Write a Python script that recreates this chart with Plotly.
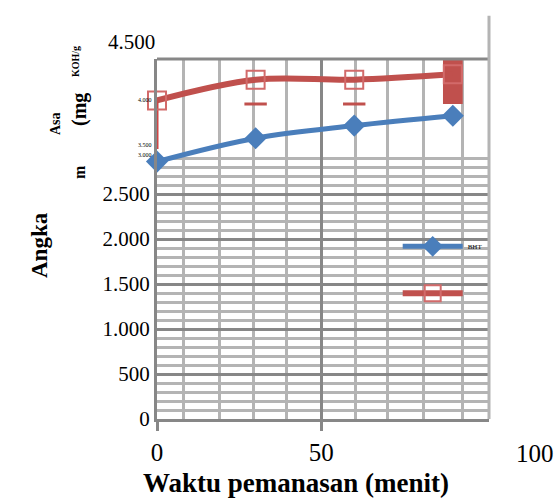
import plotly.graph_objects as go

# ---- data ----
waktu = [0, 30, 60, 90]                 # Waktu pemanasan (menit)
bht = [2860, 3120, 3260, 3370]          # Angka Asam, BHT series
kontrol = [3540, 3770, 3770, 3830]      # Angka Asam, second (red) series
kontrol_err_minus = [540, 0, 0, 0]      # lower error bar of first red point
cap_x = [30, 60]                        # short red caps under red points
cap_y = [3500, 3500]
blok_x = [90]                           # stray solid block at last red point
blok_base = [3500]
blok_h = [500]

x_ticks = [0, 50]
y_ticks = [0, 500, 1000, 1500, 2000, 2500]
x_minor = [8, 19, 29.5, 39.5, 60.5, 70, 81, 93]
y_minor = [v for v in range(100, 3000, 100) if v % 500 != 0]

SERIF = "Liberation Serif"
DARK = "#878787"
LIGHT = "#B4B4B4"
BLUE = "#4A7EBB"
RED = "#C0504D"

fig = go.Figure()

fig.add_trace(go.Bar(
    x=blok_x, y=blok_h, base=blok_base, width=6,
    marker=dict(color=RED, line=dict(width=0)),
    showlegend=False, hoverinfo="skip"))

fig.add_trace(go.Scatter(
    x=cap_x, y=cap_y, mode="markers",
    marker=dict(symbol="line-ew-open", size=16, color=RED,
                line=dict(width=3, color="#D05050")),
    showlegend=False, hoverinfo="skip"))

fig.add_trace(go.Scatter(
    x=waktu, y=bht, name="BHT", mode="lines+markers",
    line=dict(color=BLUE, width=5, shape="spline"),
    marker=dict(symbol="diamond", size=17, color=BLUE),
    legendgroup="a", cliponaxis=False))

fig.add_trace(go.Scatter(
    x=waktu, y=kontrol, name=" ", mode="lines+markers",
    line=dict(color=RED, width=6, shape="spline"),
    marker=dict(symbol="square-open", size=18, color="#D26A6A",
                line=dict(width=2, color="#D26A6A")),
    error_y=dict(type="data", symmetric=False, array=[0, 0, 0, 0],
                 arrayminus=kontrol_err_minus, color="#D04545",
                 thickness=3, width=0),
    legendgroup="b", cliponaxis=False))

fig.update_layout(
    width=556, height=498,
    margin=dict(l=157, r=67, t=59, b=79),
    paper_bgcolor="white", plot_bgcolor="white",
    separators=",.",
    font=dict(family=SERIF, color="black"),
    barmode="overlay",
    legend=dict(x=0.725, y=0.52, xanchor="left", yanchor="top",
                bgcolor="rgba(0,0,0,0)", font=dict(size=7, family=SERIF),
                tracegroupgap=28, traceorder="grouped",
                itemwidth=60),
    xaxis=dict(range=[0, 101], tickvals=x_ticks, showgrid=True,
               gridcolor=DARK, gridwidth=3, automargin=False,
               minor=dict(tickvals=x_minor, showgrid=True,
                          gridcolor=LIGHT, gridwidth=3),
               showline=True, linecolor=DARK, linewidth=3, mirror=False,
               ticks="outside", ticklen=9, tickwidth=3, tickcolor=DARK,
               tickfont=dict(size=25, family=SERIF),
               ticklabelstandoff=0,
               zeroline=False),
    yaxis=dict(range=[0, 4000], tickvals=y_ticks, tickformat=",d",
               showgrid=True, gridcolor=DARK, gridwidth=3, automargin=False,
               minor=dict(tickvals=y_minor, showgrid=True,
                          gridcolor=LIGHT, gridwidth=3),
               showline=True, linecolor=DARK, linewidth=3,
               ticks="", tickfont=dict(size=21, family=SERIF),
               ticklabelstandoff=0,
               zeroline=False),
)

# top border and right border
fig.add_shape(type="line", xref="paper", yref="paper", x0=0, x1=1, y0=1, y1=1,
              line=dict(color=DARK, width=3))
fig.add_shape(type="line", xref="paper", yref="paper", x0=1, x1=1, y0=0, y1=1.12,
              line=dict(color=LIGHT, width=3))

# x-axis title
fig.add_annotation(text="<b>Waktu pemanasan (menit)</b>", xref="paper",
                   yref="paper", x=(296 - 157) / 332, y=(419 - 483) / 360,
                   xanchor="center", yanchor="middle", showarrow=False,
                   font=dict(size=27, family=SERIF))

# extra tick labels / garbled labels
fig.add_annotation(text="4.500", xref="paper", yref="paper", x=0, y=1.047,
                   xanchor="right", yanchor="middle", showarrow=False,
                   font=dict(size=21, family=SERIF))
fig.add_annotation(text="100", xref="paper", yref="paper", x=1.14,
                   y=(419 - 453) / 360,
                   xanchor="center", yanchor="middle", showarrow=False,
                   font=dict(size=25, family=SERIF))
for txt, yy in [("4.000", 0.885), ("3.500", 0.76), ("3.000", 0.733)]:
    fig.add_annotation(text=txt, xref="paper", yref="paper", x=-0.035, y=yy,
                       xanchor="center", yanchor="middle", showarrow=False,
                       font=dict(size=6, family=SERIF))

# garbled y-axis title pieces
ytitle = [("<b>Angka</b>", 40, 245, 23), ("<b>Asa</b>", 55, 124, 14),
          ("<b>m</b>", 79, 172, 16), ("<b>(mg</b>", 79, 110, 20),
          ("<b>KOH/g</b>", 76, 62, 10)]
for txt, px, py, fs in ytitle:
    fig.add_annotation(text=txt, xref="paper", yref="paper",
                       x=(px - 157) / 332, y=(419 - py) / 360,
                       textangle=-90, showarrow=False,
                       xanchor="center", yanchor="middle",
                       font=dict(size=fs, family=SERIF))

fig.write_html("out.html", config={"displayModeBar": False},
               post_script="document.body.style.margin='0';")
